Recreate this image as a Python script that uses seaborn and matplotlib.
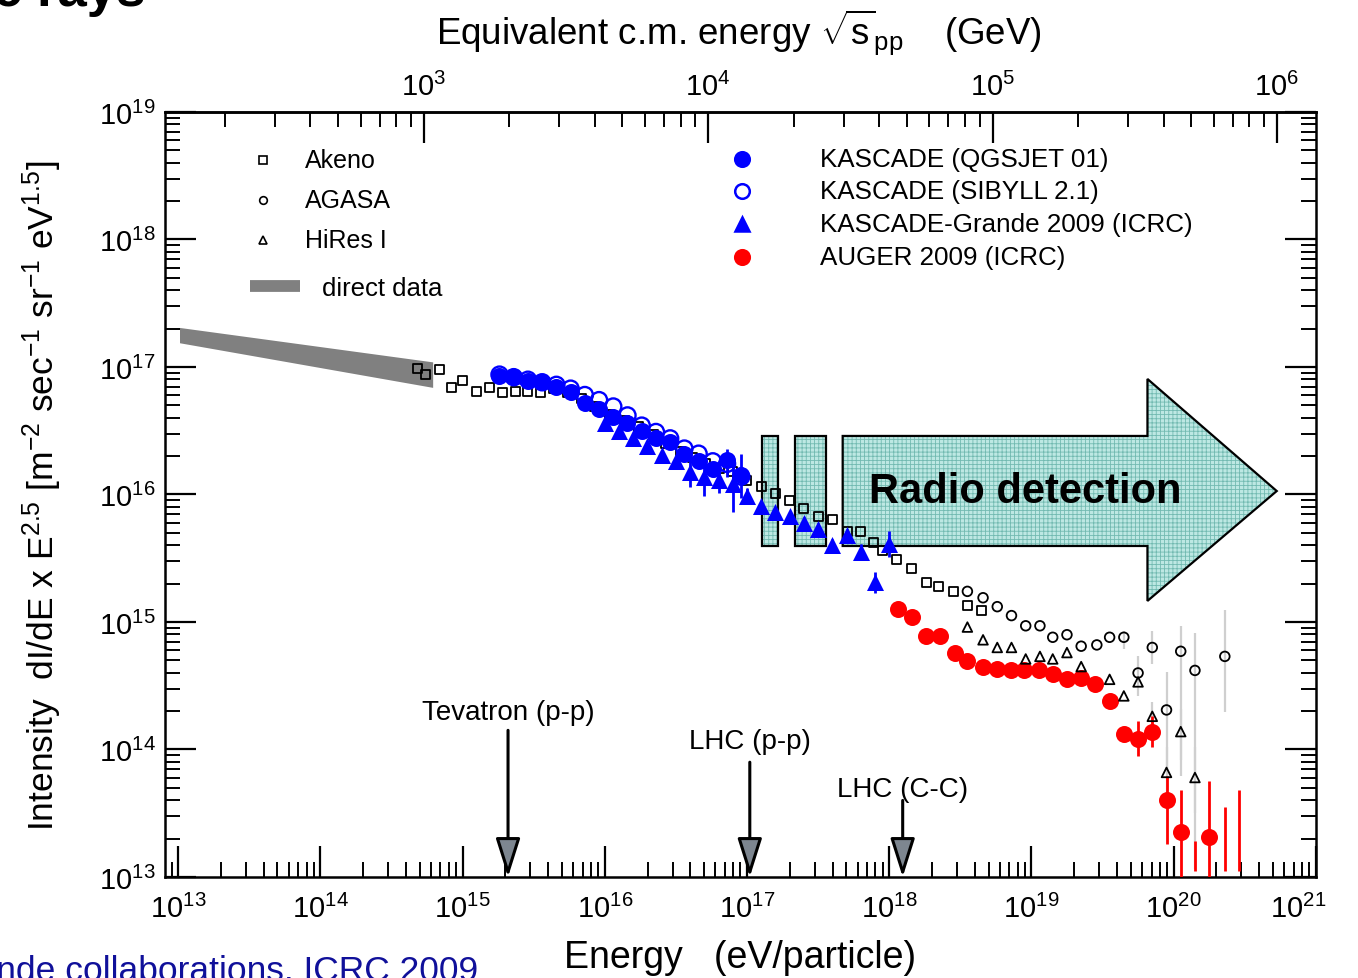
import numpy as np
import matplotlib
matplotlib.use("Agg")
import matplotlib.pyplot as plt
import seaborn as sns
from matplotlib.patches import Polygon
from matplotlib.ticker import LogLocator, NullFormatter, FuncFormatter

sns.set_theme(style="ticks", rc={
    "axes.edgecolor": "black",
    "axes.linewidth": 1.8,
    "xtick.color": "black",
    "ytick.color": "black",
    "text.color": "black",
    "axes.labelcolor": "black",
})
plt.rcParams["font.family"] = ["Liberation Sans", "DejaVu Sans"]
plt.rcParams["mathtext.fontset"] = "custom"
plt.rcParams["mathtext.rm"] = "Liberation Sans"
plt.rcParams["mathtext.it"] = "Liberation Sans:italic"
plt.rcParams["mathtext.bf"] = "Liberation Sans:bold"
plt.rcParams["mathtext.sf"] = "Liberation Sans"
plt.rcParams["mathtext.default"] = "regular"
plt.rcParams["hatch.linewidth"] = 0.6

# ---------------- data (log10 of energy in eV, log10 of E^2.5-scaled intensity) ----
direct_logE = [13.01, 14.79]
direct_lo = [17.19, 16.84]
direct_hi = [17.31, 17.04]

akeno_logE = [14.68, 14.74, 14.84, 14.92, 15.00, 15.10, 15.19, 15.28, 15.37, 15.46,
              15.55, 15.64, 15.74, 15.84, 15.93, 16.03, 16.14, 16.24, 16.34, 16.43,
              16.53, 16.62, 16.71, 16.81, 16.90, 17.00, 17.10, 17.20, 17.30, 17.40,
              17.50, 17.60, 17.71, 17.80, 17.89, 17.95, 18.05, 18.16, 18.26, 18.35,
              18.45, 18.55, 18.65]
akeno_logI = [16.99, 16.94, 16.98, 16.84, 16.89, 16.81, 16.84, 16.80, 16.81, 16.81,
              16.80, 16.83, 16.80, 16.75, 16.69, 16.63, 16.58, 16.53, 16.47, 16.40,
              16.34, 16.29, 16.24, 16.20, 16.18, 16.11, 16.06, 16.01, 15.95, 15.89,
              15.83, 15.80, 15.71, 15.71, 15.62, 15.56, 15.49, 15.42, 15.31, 15.28,
              15.24, 15.13, 15.09]

agasa_logE = [18.55, 18.66, 18.76, 18.86, 18.96, 19.06, 19.15, 19.25, 19.35, 19.46,
              19.55, 19.65, 19.75, 19.85, 19.95, 20.05, 20.15, 20.36]
agasa_logI = [15.24, 15.19, 15.12, 15.05, 14.97, 14.97, 14.88, 14.90, 14.81, 14.82,
              14.88, 14.88, 14.60, 14.80, 14.31, 14.77, 14.62, 14.73]
agasa_err_logE = [19.65, 19.75, 19.85, 19.95, 20.05, 20.15, 20.36]
agasa_err_lo = [14.79, 14.42, 14.67, 13.85, 13.79, 13.06, 14.29]
agasa_err_hi = [14.93, 14.73, 14.93, 14.61, 14.97, 14.91, 15.09]

hires_logE = [18.55, 18.66, 18.76, 18.86, 18.96, 19.06, 19.15, 19.25, 19.35, 19.55,
              19.65, 19.75, 19.85, 19.95, 20.05, 20.15]
hires_logI = [14.96, 14.86, 14.80, 14.80, 14.71, 14.73, 14.71, 14.76, 14.65, 14.55,
              14.42, 14.53, 14.26, 13.82, 14.14, 13.78]
hires_err_logE = [19.85, 19.95, 20.05, 20.15]
hires_err_lo = [14.15, 13.60, 13.92, 13.50]
hires_err_hi = [14.37, 14.02, 14.32, 14.02]

kascade_logE = [15.26, 15.36, 15.46, 15.56, 15.66, 15.76, 15.86, 15.96, 16.06, 16.16,
                16.26, 16.36, 16.46, 16.56, 16.66, 16.76, 16.86, 16.96]
kascade_qgsjet_logI = [16.93, 16.92, 16.89, 16.88, 16.84, 16.80, 16.72, 16.67, 16.61, 16.56,
                       16.50, 16.44, 16.41, 16.32, 16.26, 16.20, 16.27, 16.15]
kascade_sibyll_logI = [16.94, 16.92, 16.90, 16.88, 16.86, 16.83, 16.78, 16.74, 16.69, 16.62,
                       16.54, 16.49, 16.44, 16.36, 16.32, 16.26, 16.24, 16.14]
kascade_err_logE = [16.86, 16.96]
kascade_err_lo = [16.14, 15.97]
kascade_err_hi = [16.36, 16.32]

grande_logE = [16.0, 16.1, 16.2, 16.3, 16.4, 16.5, 16.6, 16.7, 16.8, 16.9,
               17.0, 17.1, 17.2, 17.3, 17.4, 17.5, 17.6, 17.7, 17.8, 17.9, 18.0]
grande_logI = [16.56, 16.50, 16.44, 16.38, 16.31, 16.26, 16.18, 16.14, 16.11, 16.08,
               15.99, 15.91, 15.86, 15.83, 15.78, 15.73, 15.60, 15.68, 15.55, 15.31, 15.61]
grande_err = [0.02, 0.02, 0.03, 0.03, 0.04, 0.05, 0.12, 0.15, 0.10, 0.22,
              0.06, 0.04, 0.04, 0.04, 0.04, 0.05, 0.05, 0.05, 0.06, 0.08, 0.10]

auger_logE = [18.06, 18.16, 18.26, 18.36, 18.46, 18.55, 18.66, 18.76, 18.86, 18.95,
              19.05, 19.15, 19.25, 19.35, 19.45, 19.55, 19.65, 19.75, 19.85, 19.95,
              20.05, 20.25]
auger_logI = [15.10, 15.04, 14.89, 14.89, 14.76, 14.69, 14.65, 14.63, 14.62, 14.62,
              14.62, 14.59, 14.55, 14.56, 14.51, 14.38, 14.12, 14.08, 14.14, 13.60,
              13.35, 13.31]
auger_err_logE = [19.75, 19.85, 19.95, 20.05, 20.15, 20.25, 20.36, 20.46]
auger_err_lo = [13.95, 14.02, 13.26, 12.50, 13.05, 12.50, 13.05, 13.05]
auger_err_hi = [14.22, 14.26, 13.79, 13.68, 13.28, 13.75, 13.55, 13.68]

colliders = ["Tevatron (p-p)", "LHC (p-p)", "LHC (C-C)"]
colliders_logE = [15.32, 17.02, 18.095]

M_PROTON = 0.938  # GeV


def ev(a):
    return 10.0 ** np.asarray(a, dtype=float)


def lab_to_cm(E):
    E = np.asarray(E, dtype=float)
    return np.sqrt(2.0 * M_PROTON * np.clip(E, 1e-30, None) / 1e9)


def cm_to_lab(s):
    s = np.asarray(s, dtype=float)
    return s ** 2 / (2.0 * M_PROTON) * 1e9


def decade_label(v, pos):
    if v <= 0:
        return ""
    p = int(round(np.log10(v)))
    if p >= 21:
        return ""
    return r"$\mathdefault{10^{%d}}$" % p


# ---------------- figure ----------------
fig = plt.figure(figsize=(13.58, 9.79), dpi=100)
ax = fig.add_axes([0.1215, 0.1032, 0.8475, 0.7814])
ax.set_xscale("log")
ax.set_yscale("log")
ax.set_xlim(10 ** 12.908, 1.001e21)
ax.set_ylim(1e13, 1e19)

# radio detection region
teal_face = "#bde8e3"
teal_hatch = "#72bab1"
rects = [(17.104, 17.217), (17.336, 17.553)]
body_lo, body_hi = 15.596, 16.459
for x0, x1 in rects:
    verts = [(ev(x0), ev(body_lo)), (ev(x1), ev(body_lo)),
             (ev(x1), ev(body_hi)), (ev(x0), ev(body_hi))]
    ax.add_patch(Polygon(verts, closed=True, facecolor=teal_face, edgecolor=teal_hatch,
                         hatch="++++", linewidth=0, zorder=1))
    ax.add_patch(Polygon(verts, closed=True, facecolor="none", edgecolor="black",
                         linewidth=1.6, zorder=1.1))
arrow_verts = [(17.673, body_lo), (19.816, body_lo), (19.816, 15.165), (20.725, 16.027),
               (19.816, 16.906), (19.816, body_hi), (17.673, body_hi)]
arrow_verts = [(ev(a), ev(b)) for a, b in arrow_verts]
ax.add_patch(Polygon(arrow_verts, closed=True, facecolor=teal_face, edgecolor=teal_hatch,
                     hatch="++++", linewidth=0, zorder=1))
ax.add_patch(Polygon(arrow_verts, closed=True, facecolor="none", edgecolor="black",
                     linewidth=1.6, zorder=1.1))
ax.text(ev(18.96), ev(16.03), "Radio detection", fontsize=30, fontweight="bold",
        ha="center", va="center", zorder=8)

# direct measurements band
ax.fill_between(ev(direct_logE), ev(direct_lo), ev(direct_hi), color="#808080",
                linewidth=0, zorder=2)

# error bars
ax.vlines(ev(agasa_err_logE), ev(agasa_err_lo), ev(agasa_err_hi), color="#cfcfcf",
          linewidth=1.6, zorder=2)
ax.vlines(ev(hires_err_logE), ev(hires_err_lo), ev(hires_err_hi), color="#cfcfcf",
          linewidth=1.6, zorder=2)
ax.vlines(ev(auger_err_logE), ev(auger_err_lo), ev(auger_err_hi), color="#ff0000",
          linewidth=2.0, zorder=3)
g_lo = np.asarray(grande_logI) - np.asarray(grande_err)
g_hi = np.asarray(grande_logI) + np.asarray(grande_err)
ax.vlines(ev(grande_logE), ev(g_lo), ev(g_hi), color="#0000ff", linewidth=2.0, zorder=4)
ax.vlines(ev(kascade_err_logE), ev(kascade_err_lo), ev(kascade_err_hi), color="#0000ff",
          linewidth=2.0, zorder=4)

# data points
sns.scatterplot(x=ev(akeno_logE), y=ev(akeno_logI), ax=ax, marker="s", s=42,
                facecolor="none", edgecolor="black", linewidth=1.3, zorder=3)
sns.scatterplot(x=ev(auger_logE), y=ev(auger_logI), ax=ax, marker="o", s=150,
                color="#ff0000", edgecolor="#ff0000", linewidth=0, zorder=4)
sns.scatterplot(x=ev(kascade_logE), y=ev(kascade_sibyll_logI), ax=ax, marker="o", s=135,
                facecolor="none", edgecolor="#0000ff", linewidth=1.7, zorder=5)
sns.scatterplot(x=ev(kascade_logE), y=ev(kascade_qgsjet_logI), ax=ax, marker="o", s=150,
                color="#0000ff", edgecolor="#0000ff", linewidth=0, zorder=5)
sns.scatterplot(x=ev(grande_logE), y=ev(grande_logI), ax=ax, marker="^", s=150,
                color="#0000ff", edgecolor="#0000ff", linewidth=0, zorder=5)
sns.scatterplot(x=ev(agasa_logE), y=ev(agasa_logI), ax=ax, marker="o", s=48,
                facecolor="none", edgecolor="black", linewidth=1.3, zorder=6)
sns.scatterplot(x=ev(hires_logE), y=ev(hires_logI), ax=ax, marker="^", s=48,
                facecolor="none", edgecolor="black", linewidth=1.3, zorder=6)

# collider equivalent energies
label_logI = [14.29, 14.07, 13.69]
arrow_top = [14.15, 13.90, 13.60]
for name, le, ly, at in zip(colliders, colliders_logE, label_logI, arrow_top):
    ax.annotate("", xy=(ev(le), 1e13), xytext=(ev(le), ev(at)),
                arrowprops=dict(arrowstyle="-|>,head_length=1.2,head_width=0.38",
                                mutation_scale=20, fc="#7d8690", ec="black", lw=2.2,
                                shrinkA=0, shrinkB=0), zorder=7)
    ax.text(ev(le), ev(ly), name, fontsize=20, ha="center", va="center", zorder=7)

# legends
def ax_xy(px, py):
    return (px - 165) / 1151.0, (878 - py) / 765.0

left_keys = [("Akeno", "s"), ("AGASA", "o"), ("HiRes I", "^")]
for (lab, mk), py in zip(left_keys, [161, 201, 241]):
    mx, my = ax_xy(263, py)
    ax.plot([mx], [my], marker=mk, markersize=5.5, markerfacecolor="none",
            markeredgecolor="black", markeredgewidth=1.2, linestyle="none",
            transform=ax.transAxes, zorder=9)
    tx, _ = ax_xy(305, py)
    ax.text(tx, my, lab, fontsize=18, va="center", ha="left", transform=ax.transAxes)
x0, yl = ax_xy(250, 287)
x1, _ = ax_xy(300, 287)
ax.plot([x0, x1], [yl, yl], color="#808080", linewidth=8.5, solid_capstyle="butt",
        transform=ax.transAxes)
tx, ty = ax_xy(322, 289)
ax.text(tx, ty, "direct data", fontsize=18.5, va="center", ha="left", transform=ax.transAxes)

right_keys = [("KASCADE (QGSJET 01)", "o", "#0000ff", "#0000ff"),
              ("KASCADE (SIBYLL 2.1)", "o", "none", "#0000ff"),
              ("KASCADE-Grande 2009 (ICRC)", "^", "#0000ff", "#0000ff"),
              ("AUGER 2009 (ICRC)", "o", "#ff0000", "#ff0000")]
for (lab, mk, fc, ecol), py in zip(right_keys, [160, 192, 225, 258]):
    mx, my = ax_xy(742, py)
    ax.plot([mx], [my], marker=mk, markersize=10.5, markerfacecolor=fc,
            markeredgecolor=ecol, markeredgewidth=1.8, linestyle="none",
            transform=ax.transAxes, zorder=9)
    tx, _ = ax_xy(820, py)
    ax.text(tx, my, lab, fontsize=18.7, va="center", ha="left", transform=ax.transAxes)

# axes ticks
for axis in (ax.xaxis, ax.yaxis):
    axis.set_major_locator(LogLocator(base=10, numticks=30))
    axis.set_minor_locator(LogLocator(base=10, subs=np.arange(2, 10), numticks=100))
    axis.set_minor_formatter(NullFormatter())
ax.xaxis.set_major_formatter(FuncFormatter(decade_label))
ax.tick_params(axis="both", which="major", direction="in", length=22, width=1.6,
               labelsize=21)
ax.tick_params(axis="both", which="minor", direction="in", length=11, width=1.4)
ax.tick_params(axis="x", which="both", top=False, bottom=True, pad=12)
ax.tick_params(axis="y", which="both", left=True, right=True, pad=7)
# last energy decade label sits just inside the right edge
ax.annotate(r"$\mathdefault{10^{21}}$", xy=(1e21, 1e13), xytext=(-13, -12),
            textcoords="offset points", ha="center", va="top", fontsize=21,
            annotation_clip=False)

secax = ax.secondary_xaxis("top", functions=(lab_to_cm, cm_to_lab))
secax.xaxis.set_major_locator(LogLocator(base=10, numticks=30))
secax.xaxis.set_minor_locator(LogLocator(base=10, subs=np.arange(2, 10), numticks=100))
secax.xaxis.set_minor_formatter(NullFormatter())
secax.tick_params(axis="x", which="major", direction="in", length=22, width=1.6,
                  labelsize=21, pad=8)
secax.tick_params(axis="x", which="minor", direction="in", length=11, width=1.4)
secax.spines["top"].set_linewidth(1.8)

for sp in ax.spines.values():
    sp.set_linewidth(1.8)
    sp.set_visible(True)

# titles and labels
fig.text(0.544, 0.967, r"Equivalent c.m. energy $\sqrt{s}_{pp}$    (GeV)", fontsize=26.5,
         ha="center", va="center")
fig.text(0.545, 0.0215, "Energy   (eV/particle)", fontsize=27, ha="center", va="center")
fig.text(0.031, 0.494,
         r"Intensity  dI/dE x E$^{2.5}$ [m$^{-2}$ sec$^{-1}$ sr$^{-1}$ eV$^{1.5}$]",
         fontsize=25.5, rotation=90, ha="center", va="center")
fig.text(145 / 1358, 1 - 6 / 979, "Cosmic rays", fontsize=38, fontweight="bold",
         ha="right", va="baseline")
fig.text(478 / 1358, -0.002, "Auger and KASCADE-Grande collaborations, ICRC 2009",
         fontsize=25.5, color="#10109a", ha="right", va="baseline")

fig.savefig("out.png", dpi=100)
